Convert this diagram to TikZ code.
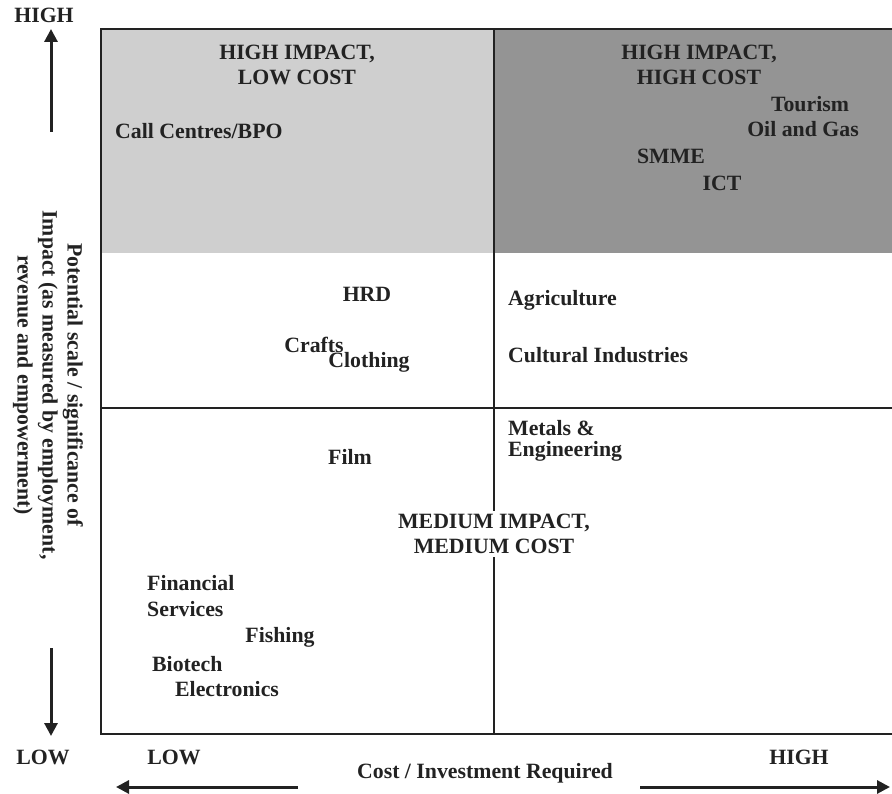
\documentclass[tikz,border=0pt]{standalone}
\usepackage{fontspec}
\setmainfont{Liberation Serif}
\usetikzlibrary{arrows.meta}
\definecolor{lightq}{gray}{0.81}
\definecolor{darkq}{gray}{0.58}
\definecolor{ink}{HTML}{222222}
\begin{document}
\begin{tikzpicture}[x=1pt,y=-1pt,
  every node/.style={inner sep=0pt,text=ink,font=\fontsize{21.8}{24.5}\selectfont\bfseries},
  lbl/.style={anchor=center},
  lft/.style={anchor=west},
  frame/.style={draw=ink,line width=1.6pt},
  axisarrow/.style={draw=ink,line width=3pt,-{Triangle[length=13pt,width=13pt]}}]
\useasboundingbox (0,0) rectangle (892,794);
% quadrants
\fill[lightq] (101,29) rectangle (494,253);
\fill[darkq] (494,29) rectangle (892,253);
\coordinate (tl) at (101,29);
\coordinate (tr) at (892,29);
\coordinate (bl) at (101,734);
\coordinate (br) at (892,734);
\coordinate (vt) at (494,29);
\coordinate (vb) at (494,734);
\coordinate (hl) at (101,408);
\coordinate (hr) at (892,408);
\draw[frame] (tr) -- (tl) -- (bl) -- (br);
\draw[frame,line width=1.2pt] (vt) -- (vb);
\draw[frame,line width=1.2pt] (hl) -- (hr);
% quadrant headings
\node[lbl,align=center] (hilc) at (297,65) {HIGH IMPACT,\\LOW COST};
\node[lbl,align=center] (hihc) at (699,65) {HIGH IMPACT,\\HIGH COST};
\node[lbl,align=center,fill=white,inner sep=3pt] (mimc) at (494,534) {MEDIUM IMPACT,\\MEDIUM COST};
% items
\node[lft] (call) at (115,131) {Call Centres/BPO};
\node[lbl] (tour) at (810,104) {Tourism};
\node[lbl] (oil) at (803,129) {Oil and Gas};
\node[lbl] (smme) at (671,156) {SMME};
\node[lbl] (ict) at (722,183) {ICT};
\node[lbl] (hrd) at (367,294) {HRD};
\node[lbl] (crafts) at (314,345) {Crafts};
\node[lbl] (cloth) at (369,362) {Clothing};
\node[lft] (agri) at (508,300) {Agriculture};
\node[lft] (cult) at (508,355) {Cultural Industries};
\node[lft] (metals) at (508,428) {Metals \&};
\node[lft] (eng) at (508,451) {Engineering};
\node[lbl] (film) at (350,457) {Film};
\node[lft] (fin) at (147,583) {Financial};
\node[lft] (serv) at (147,609) {Services};
\node[lbl] (fish) at (280,637) {Fishing};
\node[lft] (bio) at (152,664) {Biotech};
\node[lft] (elec) at (175,689) {Electronics};
% axis labels
\node[lbl] (yhigh) at (44,15) {HIGH};
\node[lbl] (ylow) at (43,757) {LOW};
\node[lbl] (xlow) at (174,757) {LOW};
\node[lbl] (xhigh) at (799,757) {HIGH};
\node[lbl] (xtitle) at (485,773) {Cost / Investment Required};
\node[lbl,rotate=-90,align=center,font=\fontsize{21.8}{25}\selectfont\bfseries] (ytitle) at (48,385)
  {Potential scale / significance of\\Impact (as measured by employment,\\revenue and empowerment)};
% arrows
\coordinate (upfrom) at (51,132);
\coordinate (upto) at (51,29);
\coordinate (dnfrom) at (51,648);
\coordinate (dnto) at (51,736);
\coordinate (lfrom) at (298,787);
\coordinate (lto) at (116,787);
\coordinate (rfrom) at (640,787);
\coordinate (rto) at (890,787);
\draw[axisarrow] (upfrom) -- (upto);
\draw[axisarrow] (dnfrom) -- (dnto);
\draw[axisarrow] (lfrom) -- (lto);
\draw[axisarrow] (rfrom) -- (rto);
\end{tikzpicture}
\end{document}
